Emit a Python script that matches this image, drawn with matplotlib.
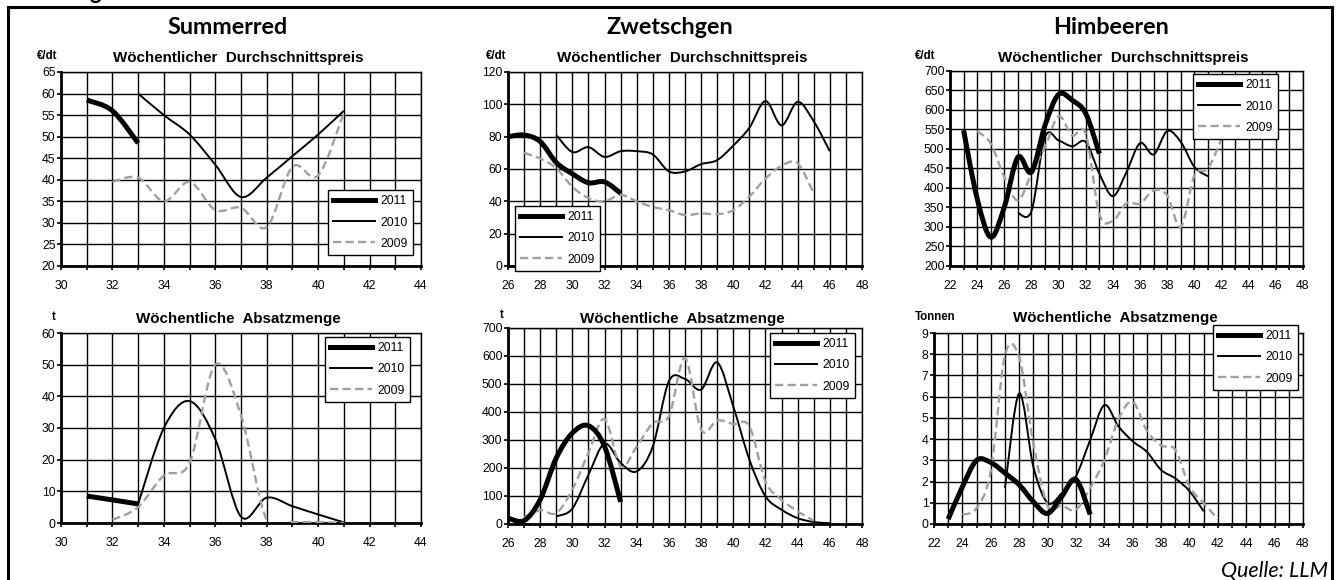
import numpy as np
import matplotlib
matplotlib.use('Agg')
import matplotlib.pyplot as plt
from matplotlib.path import Path
from matplotlib.patches import PathPatch
from matplotlib.lines import Line2D

plt.rcParams['font.family'] = ['Liberation Sans', 'DejaVu Sans']

W, H = 1338, 580

# ── data (weekly values) ──────────────────────────────────────────────────
sum_price_wk_2011 = [31, 32, 33]
sum_price_2011 = [58.5, 56.0, 48.5]
sum_price_wk_2010 = list(range(33, 42))
sum_price_2010 = [60, 55, 50.5, 43.5, 36, 40.5, 45.5, 50.5, 56]
sum_price_wk_2009 = list(range(32, 42))
sum_price_2009 = [39.5, 40.5, 35, 39.5, 33, 33.5, 29, 43, 41, 55.5]

sum_qty_wk_2011 = [31, 32, 33]
sum_qty_2011 = [8.5, 7.3, 6]
sum_qty_wk_2010 = list(range(33, 42))
sum_qty_2010 = [6, 30, 38.5, 26.5, 2, 8, 5.3, 2.7, 0.2]
sum_qty_wk_2009 = list(range(32, 42))
sum_qty_2009 = [1, 5, 15, 19, 50, 34, 1, 0.3, 0.3, 0]

zw_price_wk_2011 = list(range(26, 34))
zw_price_2011 = [80, 81, 77, 64, 57, 51.5, 52, 45]
zw_price_wk_2010 = list(range(29, 47))
zw_price_2010 = [81, 70.5, 73.5, 67.5, 71, 71, 69, 58.5, 58.5, 63, 65.5, 74.5,
                 85.5, 102, 87, 101.5, 89.5, 71]
zw_price_wk_2009 = list(range(27, 46))
zw_price_2009 = [70, 66.5, 60.5, 49, 42, 40, 44, 40, 36.5, 34.5, 31.5, 32.5, 32,
                 34.5, 43, 54, 62, 63.5, 45]

zw_qty_wk_2011 = list(range(26, 34))
zw_qty_2011 = [21, 12, 87, 236, 325, 351, 277, 79]
zw_qty_wk_2010 = list(range(29, 47))
zw_qty_2010 = [27, 55, 176, 287, 218, 188, 277, 510, 518, 480, 577, 420, 230, 99,
               51, 21, 7, 3]
zw_qty_wk_2009 = list(range(27, 46))
zw_qty_2009 = [24, 49, 39, 123, 254, 375, 206, 277, 360, 385, 593, 337, 370, 357,
               349, 152, 87, 45, 12]

hb_price_wk_2011 = list(range(23, 34))
hb_price_2011 = [548, 373, 274, 351, 479, 441, 561, 640, 625, 591, 488]
hb_price_wk_2010 = list(range(27, 42))
hb_price_2010 = [336, 341, 531, 522, 507, 518, 437, 379, 441, 515, 486, 546, 518,
                 454, 430]
hb_price_wk_2009 = list(range(24, 43))
hb_price_2009 = [546, 514, 428, 368, 437, 505, 584, 535, 539, 333, 316, 361, 360,
                 394, 381, 300, 432, 450, 526]

hb_qty_wk_2011 = list(range(23, 34))
hb_qty_2011 = [0.23, 1.75, 3.0, 2.9, 2.4, 1.85, 1.05, 0.5, 1.3, 2.1, 0.45]
hb_qty_wk_2010 = list(range(27, 42))
hb_qty_2010 = [1.7, 6.15, 2.7, 1.0, 1.45, 2.25, 3.95, 5.6, 4.6, 3.9, 3.4, 2.55,
               2.15, 1.55, 0.6]
hb_qty_wk_2009 = list(range(24, 43))
hb_qty_2009 = [0.44, 0.75, 2.5, 7.95, 7.85, 3.8, 0.86, 0.86, 0.67, 1.7, 3.0, 4.95,
               5.75, 4.4, 3.7, 3.5, 1.77, 0.99, 0.23]

years = ['2011', '2010', '2009']
styles = {
    '2011': dict(color='black', lw=3.6, ls='-'),
    '2010': dict(color='black', lw=1.4, ls='-'),
    '2009': dict(color='#a0a0a0', lw=1.7, ls=(0, (3.5, 1.8))),
}


def px_box(l, t, r, b):
    return [l / W, 1 - b / H, (r - l) / W, (b - t) / H]


def smooth_path(x, y):
    # Excel-style smoothed line: cubic Bezier through the weekly points
    pts = np.column_stack([x, y]).astype(float)
    n = len(pts)
    verts, codes = [pts[0]], [Path.MOVETO]
    for i in range(n - 1):
        p0 = pts[i - 1] if i > 0 else pts[i]
        p3 = pts[i + 2] if i + 2 < n else pts[i + 1]
        verts += [pts[i] + (pts[i + 1] - p0) / 6, pts[i + 1] - (p3 - pts[i]) / 6, pts[i + 1]]
        codes += [Path.CURVE4] * 3
    return Path(verts, codes)


def panel(fig, box, xlim, ylim, ystep, series, legend_xy, unit, unit_xy, sub, sub_y):
    ax = fig.add_axes(px_box(*box))
    ax.set_xlim(*xlim)
    ax.set_ylim(*ylim)
    wks = list(range(xlim[0], xlim[1] + 1))
    ax.set_xticks(wks)
    ax.set_xticklabels([str(w) if w % 2 == 0 else '' for w in wks])
    ax.set_yticks(np.arange(ylim[0], ylim[1] + ystep / 2, ystep))
    ax.grid(True, color='black', lw=1.0)
    ax.set_axisbelow(True)
    ax.tick_params(axis='x', length=3, width=1.2, pad=7, labelsize=8.8, colors='black')
    ax.tick_params(axis='y', length=3, width=1.2, pad=1, labelsize=8.8, colors='black')
    for s in ['top', 'right']:
        ax.spines[s].set_linewidth(1.0)
    for s in ['left', 'bottom']:
        ax.spines[s].set_linewidth(2.0)
    for yr, (wk, vals) in zip(years, series):
        st = styles[yr]
        ax.add_patch(PathPatch(smooth_path(wk, vals), fill=False, edgecolor=st['color'],
                               lw=st['lw'], linestyle=st['ls'], capstyle='butt',
                               joinstyle='round', zorder=3 if yr != '2011' else 4))
    handles = [Line2D([], [], color=styles[y]['color'], lw=styles[y]['lw'],
                      ls=styles[y]['ls']) for y in years]
    leg = ax.legend(handles, years, loc='upper left',
                    bbox_to_anchor=(legend_xy[0] / W, 1 - legend_xy[1] / H),
                    bbox_transform=fig.transFigure, borderaxespad=0, fontsize=8.7,
                    handlelength=3.4, handletextpad=0.45, labelspacing=0.75,
                    borderpad=0.45, fancybox=False, framealpha=1, edgecolor='black')
    leg.get_frame().set_linewidth(1.0)
    leg.set_zorder(6)
    fig.text(unit_xy[0] / W, 1 - unit_xy[1] / H, unit, fontsize=8.3, fontweight='bold',
             ha='left', va='center')
    cx = (box[0] + box[2]) / 2 - 3
    fig.text(cx / W, 1 - sub_y / H, sub, fontsize=10.9, fontweight='bold',
             ha='center', va='center')
    return ax


fig = plt.figure(figsize=(W / 100, H / 100), dpi=100)

price_t = 'Wöchentlicher  Durchschnittspreis'
qty_t = 'Wöchentliche  Absatzmenge'

panel(fig, (61, 72, 421, 266), (30, 44), (20, 65), 5,
      [(sum_price_wk_2011, sum_price_2011), (sum_price_wk_2010, sum_price_2010),
       (sum_price_wk_2009, sum_price_2009)],
      (328, 190), '€/dt', (37, 56), price_t, 58)
panel(fig, (61, 333, 421, 523), (30, 44), (0, 60), 10,
      [(sum_qty_wk_2011, sum_qty_2011), (sum_qty_wk_2010, sum_qty_2010),
       (sum_qty_wk_2009, sum_qty_2009)],
      (325, 337), 't', (52, 317), qty_t, 319)
panel(fig, (508, 72, 862, 266), (26, 48), (0, 120), 20,
      [(zw_price_wk_2011, zw_price_2011), (zw_price_wk_2010, zw_price_2010),
       (zw_price_wk_2009, zw_price_2009)],
      (515, 206), '€/dt', (486, 56), price_t, 58)
panel(fig, (508, 328, 862, 524), (26, 48), (0, 700), 100,
      [(zw_qty_wk_2011, zw_qty_2011), (zw_qty_wk_2010, zw_qty_2010),
       (zw_qty_wk_2009, zw_qty_2009)],
      (770, 333), 't', (500, 315), qty_t, 319)
panel(fig, (950, 71, 1303, 266), (22, 48), (200, 700), 50,
      [(hb_price_wk_2011, hb_price_2011), (hb_price_wk_2010, hb_price_2010),
       (hb_price_wk_2009, hb_price_2009)],
      (1193, 74), '€/dt', (915, 56), price_t, 58)
panel(fig, (934, 333, 1303, 524), (22, 48), (0, 9), 1,
      [(hb_qty_wk_2011, hb_qty_2011), (hb_qty_wk_2010, hb_qty_2010),
       (hb_qty_wk_2009, hb_qty_2009)],
      (1213, 325), 'Tonnen', (915, 317), qty_t, 318)

# fruit headings
for name, cx in [('Summerred', 228), ('Zwetschgen', 670), ('Himbeeren', 1111)]:
    fig.text(cx / W, 1 - 28 / H, name, fontsize=16.8, fontweight='bold',
             family=['Lato', 'DejaVu Sans'], ha='center', va='center')

# heading above the frame, cut off by the top edge as in the source
fig.text(95 / W, 1 + 1 / H, 'g', fontsize=16, fontweight='bold',
         family=['Lato', 'DejaVu Sans'], ha='center', va='baseline')

fig.text(1328 / W, 1 - 571 / H, 'Quelle: LLM', fontsize=15.5, style='italic',
         family=['Lato', 'DejaVu Sans'], ha='right', va='center')

# outer frame (open at the bottom)
for xs, ys in [([8, 1332], [7, 7]), ([8, 8], [7, 580]), ([1332, 1332], [7, 580])]:
    fig.add_artist(Line2D([x / W for x in xs], [1 - y / H for y in ys], color='black',
                          lw=2.2, transform=fig.transFigure))

fig.savefig('out.png', dpi=100, facecolor='white')
